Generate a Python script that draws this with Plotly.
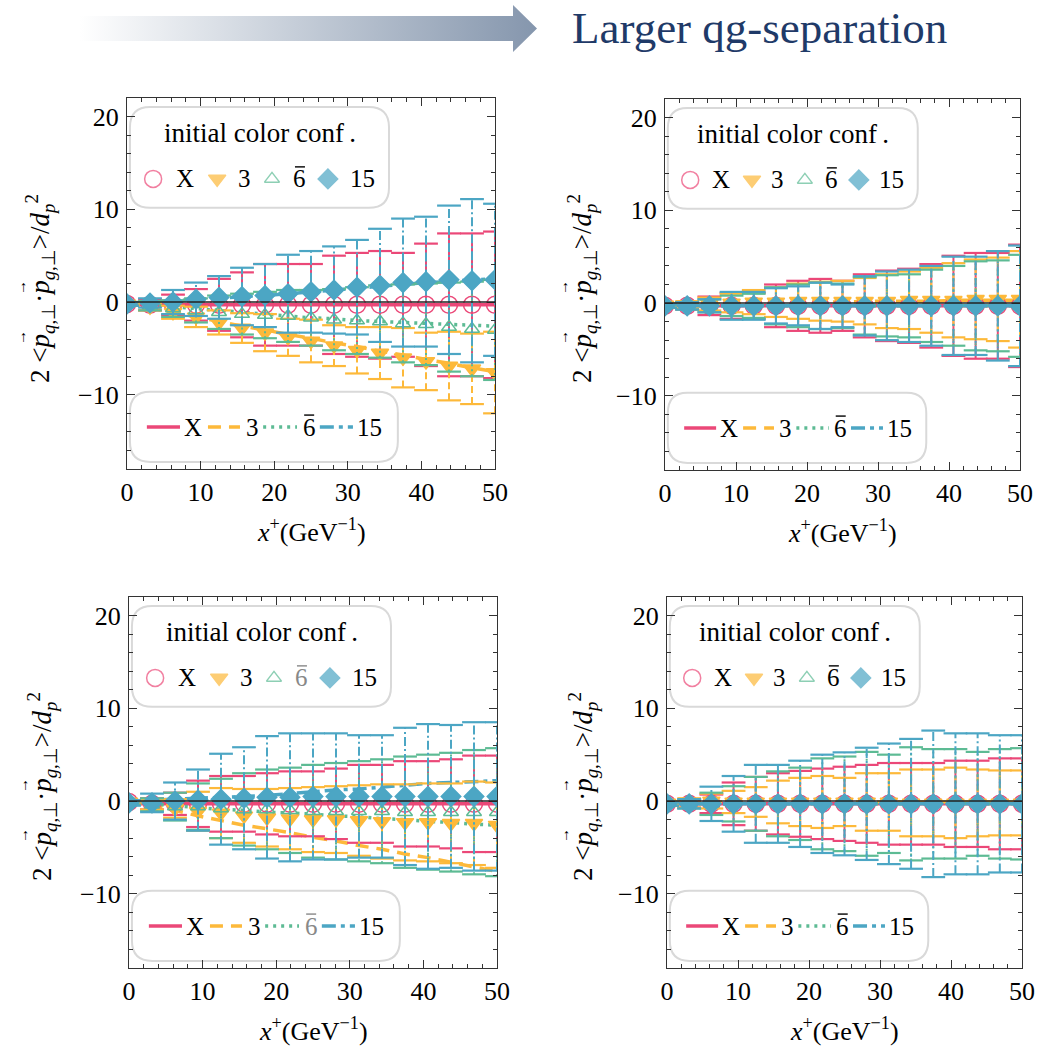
import plotly.graph_objects as go

W, H = 1063, 1051
FONT = "Liberation Serif"

# ---------------- data ----------------
X_POS = [0, 3.125, 6.25, 9.375, 12.5, 15.625, 18.75, 21.875, 25, 28.125,
         31.25, 34.375, 37.5, 40.625, 43.75, 46.875, 50]
LABELS = ["X", "3", "6", "15"]

# panel 1 (top-left)
P1_X_MEAN = [-0.2, -0.3, -0.3, -0.3, -0.3, -0.3, -0.3, -0.3, -0.3, -0.3, -0.3, -0.3, -0.3, -0.3, -0.3, -0.3, -0.3]
P1_X_ERR = [0.2, 0.6, 1.1, 1.7, 2.8, 3.5, 4.4, 4.4, 4.4, 5.3, 5.6, 5.8, 5.6, 6.6, 7.7, 7.7, 7.9]
P1_3_MEAN = [-0.2, -0.5, -1.1, -1.6, -2.2, -2.8, -3.3, -3.8, -4.2, -4.7, -5.2, -5.5, -6.0, -6.4, -6.9, -7.2, -7.6]
P1_3_ERR = [0.2, 0.4, 0.7, 1.1, 1.3, 1.6, 2.0, 2.0, 2.3, 2.2, 2.5, 2.8, 3.2, 3.1, 3.7, 3.8, 4.4]
P1_6_MEAN = [-0.2, -0.4, -0.7, -0.9, -1.1, -1.3, -1.4, -1.5, -1.7, -1.9, -2.0, -2.1, -2.3, -2.4, -2.7, -2.9, -3.0]
P1_6_ERR = [0.2, 0.5, 0.9, 1.3, 1.8, 2.2, 2.5, 2.8, 3.0, 3.3, 3.6, 3.9, 4.2, 4.4, 4.8, 5.1, 5.4]
P1_15_MEAN = [-0.2, -0.1, 0.0, 0.3, 0.5, 0.6, 0.7, 0.9, 1.1, 1.3, 1.6, 1.8, 2.1, 2.2, 2.4, 2.3, 2.4]
P1_15_ERR = [0.2, 0.5, 1.3, 1.8, 2.3, 3.1, 3.4, 4.2, 4.4, 4.7, 5.1, 6.1, 6.9, 7.0, 8.0, 8.8, 8.2]
P1_X_FIT = [-0.3] * 17
P1_3_FIT = [-0.1, -0.6, -1.1, -1.6, -2.1, -2.6, -3.0, -3.5, -3.9, -4.4, -4.8, -5.3, -5.7, -6.2, -6.6, -7.1, -7.5]
P1_6_FIT = [-0.1, -0.3, -0.5, -0.7, -0.9, -1.1, -1.3, -1.5, -1.7, -1.8, -2.0, -2.1, -2.2, -2.3, -2.4, -2.5, -2.6]
P1_15_FIT = [-0.1, 0.0, 0.1, 0.3, 0.4, 0.6, 0.7, 0.9, 1.1, 1.3, 1.5, 1.7, 1.9, 2.1, 2.2, 2.4, 2.5]

# panel 2 (top-right)
P2_X_MEAN = [-0.3] * 17
P2_X_ERR = [0.2, 0.4, 1.0, 1.4, 1.4, 2.3, 2.7, 2.9, 2.7, 3.4, 3.8, 4.0, 4.5, 5.4, 5.7, 5.7, 6.6]
P2_3_MEAN = [-0.2, -0.2, -0.1, 0.0, 0.1, 0.1, 0.2, 0.2, 0.2, 0.2, 0.2, 0.3, 0.3, 0.3, 0.4, 0.4, 0.4]
P2_3_ERR = [0.2, 0.4, 0.7, 1.0, 1.3, 1.6, 1.9, 2.1, 2.2, 2.5, 2.9, 3.1, 3.5, 4.0, 4.3, 4.5, 5.2]
P2_6_MEAN = [-0.3] * 17
P2_6_ERR = [0.2, 0.4, 0.7, 1.1, 1.3, 2.0, 2.3, 2.5, 2.4, 3.1, 3.3, 3.4, 3.9, 4.3, 4.8, 4.9, 5.5]
P2_15_MEAN = [-0.3] * 17
P2_15_ERR = [0.2, 0.4, 0.7, 1.5, 1.5, 1.9, 2.1, 2.5, 2.3, 3.2, 3.7, 3.9, 4.3, 5.3, 5.3, 5.9, 6.5]
P2_X_FIT = [-0.3] * 17
P2_3_FIT = [-0.2, -0.2, -0.1, -0.1, 0.0, 0.0, 0.1, 0.1, 0.1, 0.2, 0.2, 0.2, 0.2, 0.3, 0.3, 0.3, 0.3]
P2_6_FIT = [-0.3] * 17
P2_15_FIT = [-0.3] * 17

# panel 3 (bottom-left)
P3_X_MEAN = [-0.1, -0.3, -0.3, -0.3, -0.3, -0.3, -0.3, -0.3, -0.3, -0.3, -0.3, -0.3, -0.3, -0.3, -0.3, -0.3, -0.3]
P3_X_ERR = [0.2, 0.6, 1.2, 2.5, 3.0, 3.0, 3.3, 3.5, 3.5, 3.8, 4.2, 4.2, 4.6, 4.6, 4.8, 5.2, 5.2]
P3_3_MEAN = [-0.1, -0.4, -0.8, -1.1, -1.3, -1.6, -1.8, -1.9, -2.0, -2.0, -2.1, -2.2, -2.3, -2.3, -2.4, -2.4, -2.6]
P3_3_ERR = [0.2, 0.5, 1.0, 2.1, 2.7, 2.9, 3.1, 3.3, 3.5, 3.6, 3.8, 4.0, 4.1, 4.2, 4.3, 4.5, 4.6]
P3_6_MEAN = [-0.2, -0.4, -0.6, -0.6, -0.8, -0.9, -0.9, -1.0, -1.1, -1.1, -1.1, -1.1, -1.2, -1.2, -1.2, -1.2, -1.2]
P3_6_ERR = [0.2, 0.7, 1.5, 2.5, 3.2, 3.9, 4.3, 4.6, 5.0, 5.2, 5.4, 5.6, 6.0, 6.2, 6.4, 6.7, 6.9]
P3_15_MEAN = [-0.2, -0.2, 0.0, 0.1, 0.2, 0.3, 0.4, 0.4, 0.5, 0.5, 0.5, 0.5, 0.5, 0.5, 0.5, 0.5, 0.5]
P3_15_ERR = [0.3, 1.0, 2.0, 3.3, 4.9, 5.5, 6.6, 6.9, 6.8, 6.8, 6.6, 6.6, 7.4, 7.8, 7.7, 8.0, 8.0]
P3_X_FIT = [-0.3] * 17
P3_3_FIT = [0.0, -0.5, -1.0, -1.6, -2.1, -2.6, -3.0, -3.4, -3.9, -4.3, -4.8, -5.2, -5.7, -6.1, -6.6, -7.1, -7.6]
P3_6_FIT = [0.0, -0.3, -0.5, -0.7, -0.9, -1.0, -1.2, -1.3, -1.4, -1.6, -1.7, -1.9, -2.0, -2.2, -2.3, -2.5, -2.6]
P3_15_FIT = [0.0, 0.1, 0.2, 0.3, 0.4, 0.5, 0.6, 0.8, 1.0, 1.2, 1.3, 1.5, 1.7, 1.9, 2.0, 2.1, 2.2]

# panel 4 (bottom-right)
P4_X_MEAN = [-0.3] * 17
P4_X_ERR = [0.2, 0.4, 1.0, 2.3, 2.9, 3.3, 3.55, 3.8, 4.0, 4.2, 4.4, 4.4, 4.4, 4.65, 4.65, 4.9, 4.9]
P4_3_MEAN = [-0.2, -0.2, 0.0, -0.1, -0.1, -0.1, -0.1, -0.1, -0.1, -0.1, -0.1, -0.2, -0.2, -0.2, -0.2, -0.2, -0.2]
P4_3_ERR = [0.2, 0.5, 0.8, 1.2, 1.6, 2.3, 2.6, 2.8, 2.6, 3.1, 3.1, 3.6, 3.6, 3.8, 3.6, 3.5, 3.5]
P4_6_MEAN = [-0.3] * 17
P4_6_ERR = [0.2, 0.5, 1.2, 1.9, 2.9, 3.5, 3.9, 4.9, 5.1, 5.6, 5.3, 6.1, 5.9, 5.9, 5.6, 5.9, 6.0]
P4_15_MEAN = [-0.3] * 17
P4_15_ERR = [0.2, 0.5, 1.85, 3.0, 4.2, 4.2, 4.65, 5.3, 5.55, 6.05, 6.5, 7.0, 7.9, 7.6, 7.6, 7.4, 7.4]
P4_X_FIT = [-0.3] * 17
P4_3_FIT = [-0.1] * 17
P4_6_FIT = [-0.3] * 17
P4_15_FIT = [-0.3] * 17

X_TICKS = [0, 10, 20, 30, 40, 50]
Y_TICKS = [-10, 0, 10, 20]
X_TICK_TEXT = ["0", "10", "20", "30", "40", "50"]
Y_TICK_TEXT = ["\u221210", "0", "10", "20"]

# ---------------- styles ----------------
COLORS = ["#EB4878", "#FDB93A", "#5DBB94", "#4CA6C4"]
SYMBOLS = ["circle-open", "triangle-down", "triangle-up-open", "diamond"]
MSIZE = [17, 15, 13, 15]
FIT_DASH = ["solid", "13px,8px", "3px,5px", "14px,5px,4px,5px"]
EB_DASH = ["solid", "7px,4px", "2px,3px", "9px,3px,2px,3px"]

# panel pixel boxes (left, right, top, bottom)
PANELS = [
    dict(box=(127, 495, 98, 469),
         series=[(P1_X_MEAN, P1_X_ERR, P1_X_FIT), (P1_3_MEAN, P1_3_ERR, P1_3_FIT),
                 (P1_6_MEAN, P1_6_ERR, P1_6_FIT), (P1_15_MEAN, P1_15_ERR, P1_15_FIT)],
         six="black", ytx=40, ytc=289),
    dict(box=(665, 1020, 99, 470),
         series=[(P2_X_MEAN, P2_X_ERR, P2_X_FIT), (P2_3_MEAN, P2_3_ERR, P2_3_FIT),
                 (P2_6_MEAN, P2_6_ERR, P2_6_FIT), (P2_15_MEAN, P2_15_ERR, P2_15_FIT)],
         six="black", ytx=582, ytc=289),
    dict(box=(129, 497, 597, 968),
         series=[(P3_X_MEAN, P3_X_ERR, P3_X_FIT), (P3_3_MEAN, P3_3_ERR, P3_3_FIT),
                 (P3_6_MEAN, P3_6_ERR, P3_6_FIT), (P3_15_MEAN, P3_15_ERR, P3_15_FIT)],
         six="#888888", ytx=42, ytc=787),
    dict(box=(667, 1022, 597, 968),
         series=[(P4_X_MEAN, P4_X_ERR, P4_X_FIT), (P4_3_MEAN, P4_3_ERR, P4_3_FIT),
                 (P4_6_MEAN, P4_6_ERR, P4_6_FIT), (P4_15_MEAN, P4_15_ERR, P4_15_FIT)],
         six="black", ytx=583, ytc=787),
]


def rrect(x0, y0, x1, y1, rx, ry):
    return (f"M {x0+rx},{y0} L {x1-rx},{y0} Q {x1},{y0} {x1},{y0+ry} "
            f"L {x1},{y1-ry} Q {x1},{y1} {x1-rx},{y1} L {x0+rx},{y1} "
            f"Q {x0},{y1} {x0},{y1-ry} L {x0},{y0+ry} Q {x0},{y0} {x0+rx},{y0} Z")


def ann(**kw):
    d = dict(showarrow=False, xanchor="center", yanchor="middle")
    d.update(kw)
    return d


fig = go.Figure()
layout = dict(width=W, height=H, margin=dict(l=0, r=0, t=0, b=0, autoexpand=False),
              paper_bgcolor="white", plot_bgcolor="white", showlegend=False,
              font=dict(family=FONT, size=24, color="black"))
shapes, annotations = [], []

for i, p in enumerate(PANELS):
    n = i + 1
    xa = "x" if n == 1 else f"x{n}"
    ya = "y" if n == 1 else f"y{n}"
    lx = f"x{n+4}"
    ly = f"y{n+4}"
    L, R, T, B = p["box"]
    xdom = [L / W, R / W]
    ydom = [1 - B / H, 1 - T / H]
    axcommon = dict(showline=True, mirror="allticks", linecolor="#333333", linewidth=1.2,
                    ticks="inside", ticklen=8, tickwidth=1, tickcolor="#333333",
                    showgrid=False, zeroline=False, fixedrange=True, automargin=False,
                    tickfont=dict(family=FONT, size=26, color="black"))
    layout["xaxis" if n == 1 else f"xaxis{n}"] = dict(
        domain=xdom, anchor=ya, range=[0, 50], tickvals=X_TICKS, ticktext=X_TICK_TEXT,
        ticklabelstandoff=0,
        minor=dict(dtick=2, tick0=0, ticks="inside", ticklen=4, tickcolor="#333333"),
        **axcommon)
    layout["yaxis" if n == 1 else f"yaxis{n}"] = dict(
        domain=ydom, anchor=xa, range=[-18, 22], tickvals=Y_TICKS, ticktext=Y_TICK_TEXT,
        ticklabelstandoff=2,
        minor=dict(dtick=2, tick0=0, ticks="inside", ticklen=4, tickcolor="#333333"),
        **axcommon)
    layout[f"xaxis{n+4}"] = dict(overlaying=xa, anchor=ly, domain=xdom, range=[0, 1],
                                 visible=False, fixedrange=True, automargin=False)
    layout[f"yaxis{n+4}"] = dict(overlaying=ya, anchor=lx, domain=ydom, range=[0, 1],
                                 visible=False, fixedrange=True, automargin=False)

    # fit curves (drawn first, underneath)
    for k, (mean, err, fit) in enumerate(p["series"]):
        fig.add_trace(go.Scatter(x=X_POS, y=fit, mode="lines", xaxis=xa, yaxis=ya,
                                 line=dict(color=COLORS[k], width=3.5, dash=FIT_DASH[k]),
                                 hoverinfo="skip"))
    # error bars + markers
    for k, (mean, err, fit) in enumerate(p["series"]):
        ex, ey, cx, cy = [], [], [], []
        for xv, m, e in zip(X_POS, mean, err):
            ex += [xv, xv, None]
            ey += [m - e, m + e, None]
            cx += [xv, xv]
            cy += [m - e, m + e]
        fig.add_trace(go.Scatter(x=ex, y=ey, mode="lines", xaxis=xa, yaxis=ya,
                                 line=dict(color=COLORS[k], width=2, dash=EB_DASH[k]),
                                 hoverinfo="skip"))
        fig.add_trace(go.Scatter(x=cx, y=cy, mode="markers", xaxis=xa, yaxis=ya,
                                 marker=dict(symbol="line-ew", size=17, color=COLORS[k],
                                             line=dict(width=2.2, color=COLORS[k])),
                                 hoverinfo="skip"))
        fig.add_trace(go.Scatter(x=X_POS, y=mean, mode="markers", xaxis=xa, yaxis=ya,
                                 marker=dict(symbol=SYMBOLS[k], size=MSIZE[k], color=COLORS[k],
                                             line=dict(width=1.5, color=COLORS[k])),
                                 hoverinfo="skip"))

    # zero line
    shapes.append(dict(type="line", xref=f"{xa} domain", yref=ya, x0=0, x1=1, y0=0, y1=0,
                       line=dict(color="#222222", width=1.5), layer="above"))

    # legend boxes
    shapes.append(dict(type="path", xref=f"{xa} domain", yref=f"{ya} domain",
                       path=rrect(0.008, 0.704, 0.712, 0.976, 0.055, 0.055),
                       fillcolor="white", line=dict(color="#D9D9D9", width=2), layer="below"))
    shapes.append(dict(type="path", xref=f"{xa} domain", yref=f"{ya} domain",
                       path=rrect(0.008, 0.019, 0.736, 0.208, 0.055, 0.055),
                       fillcolor="white", line=dict(color="#D9D9D9", width=2), layer="below"))

    # legend (marker) samples
    fig.add_trace(go.Scatter(x=[0.071, 0.245, 0.394, 0.546], y=[0.782] * 4, mode="markers",
                             xaxis=lx, yaxis=ly, cliponaxis=False, hoverinfo="skip",
                             marker=dict(symbol=SYMBOLS, size=MSIZE, color=COLORS,
                                         line=dict(width=1.5, color=COLORS))))
    # legend (line) samples
    for k, (a, b) in enumerate([(0.054, 0.144), (0.22, 0.307), (0.37, 0.462), (0.524, 0.614)]):
        fig.add_trace(go.Scatter(x=[a, b], y=[0.113, 0.113], mode="lines", xaxis=lx, yaxis=ly,
                                 cliponaxis=False, hoverinfo="skip",
                                 line=dict(color=COLORS[k], width=3.5, dash=FIT_DASH[k])))

    tf = dict(family=FONT, size=25, color="black")
    annotations.append(ann(xref=f"{xa} domain", yref=f"{ya} domain", x=0.361, y=0.906,
                           text="initial color conf\u2009.",
                           font=dict(family=FONT, size=27, color="black")))
    for yy, xs in [(0.782, [0.158, 0.318, 0.47, 0.639]), (0.113, [0.18, 0.34, 0.495, 0.66])]:
        for k, xx in enumerate(xs):
            f = dict(tf)
            if k == 2:
                f["color"] = p["six"]
            annotations.append(ann(xref=f"{xa} domain", yref=f"{ya} domain", x=xx, y=yy,
                                   text=LABELS[k], font=f))
            if k == 2:  # overline of the anti-sextet label
                shapes.append(dict(type="line", xref=f"{xa} domain", yref=f"{ya} domain",
                                   xsizemode="pixel", ysizemode="pixel", xanchor=xx, yanchor=yy,
                                   x0=-5, x1=5, y0=12, y1=12,
                                   line=dict(color=p["six"], width=1.4), layer="above"))

    # axis titles
    annotations.append(ann(xref="paper", yref="paper", x=(L + R) / 2 / W, y=1 - (B + 61) / H,
                           text="<i>x</i><sup>+</sup>(GeV<sup>\u22121</sup>)",
                           font=dict(family=FONT, size=26, color="black")))
    yc = p["ytc"]
    annotations.append(ann(xref="paper", yref="paper", x=p["ytx"] / W, y=1 - yc / H,
                           text="2 &lt;<i>p</i><sub><i>q</i>,\u22a5</sub>\u00b7<i>p</i>"
                                "<sub><i>g</i>,\u22a5</sub>&gt;/<i>d</i><sub><i>p</i></sub><sup>2</sup>",
                           textangle=-90, font=dict(family=FONT, size=27, color="black")))
    for dy in (49, -1):
        annotations.append(ann(xref="paper", yref="paper", x=(p["ytx"] - 19) / W,
                               y=1 - (yc + dy) / H, text="\u2192", textangle=-90,
                               font=dict(family=FONT, size=15, color="black")))

# ---------------- banner ----------------
layout["xaxis9"] = dict(domain=[0, 1], anchor="y9", range=[0, W], visible=False,
                        fixedrange=True, automargin=False)
layout["yaxis9"] = dict(domain=[1 - 60 / H, 1], anchor="x9", range=[60, 0], visible=False,
                        fixedrange=True, automargin=False)
ARROW_X = [80, 513, 513, 537, 513, 513, 80, 80]
ARROW_Y = [16, 16, 5, 28.5, 52, 41, 41, 16]
fig.add_trace(go.Scatter(x=ARROW_X, y=ARROW_Y, mode="lines", fill="toself", xaxis="x9", yaxis="y9",
                         line=dict(width=0, color="rgba(0,0,0,0)"), hoverinfo="skip",
                         fillgradient=dict(type="horizontal", start=80, stop=537,
                                           colorscale=[[0, "rgba(255,255,255,1)"],
                                                       [1, "#8596AD"]])))
annotations.append(ann(xref="paper", yref="paper", x=759 / W, y=1 - 28 / H,
                       text="Larger qg-separation",
                       font=dict(family=FONT, size=45, color="#1F3A68")))

layout["shapes"] = shapes
layout["annotations"] = annotations
fig.update_layout(**layout)
fig.write_html("out.html", config={"displayModeBar": False},
               post_script="document.body.style.margin='0px';")
